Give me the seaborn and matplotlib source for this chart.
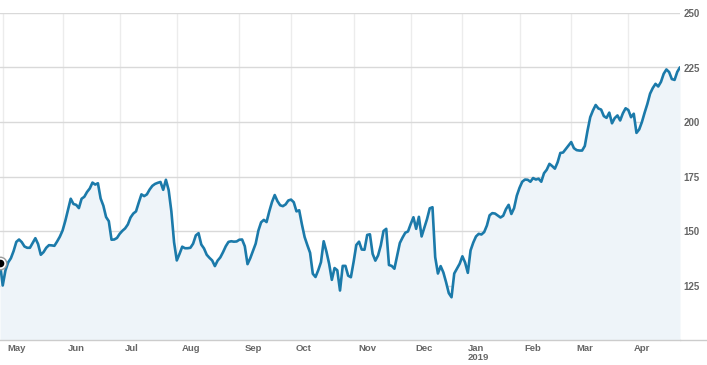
import matplotlib
matplotlib.use("Agg")
import matplotlib.pyplot as plt
import matplotlib.transforms as mtransforms
import seaborn as sns
import pandas as pd
import numpy as np

# trading calendar Apr 30 2018 .. Apr 29 2019 (NYSE holidays)
holidays = ["2018-05-28", "2018-07-04", "2018-09-03", "2018-11-22", "2018-12-05",
            "2018-12-25", "2019-01-01", "2019-01-21", "2019-02-18", "2019-04-19"]
start_date = "2018-04-30"
end_date = "2019-04-29"

# closing price, one per trading day
price = [
    135.2, 125.0, 131.9, 135.6, 137.5, 140.8, 145.0, 146.1, 144.9, 142.9,
    142.3, 142.3, 144.5, 146.7, 144.0, 139.1, 140.3, 142.3, 143.5, 143.4,
    143.2, 145.2, 147.4, 150.2, 154.6, 159.6, 164.8, 162.4, 162.0, 160.5,
    164.8, 165.7, 167.9, 169.5, 172.2, 171.3, 171.9, 164.9, 161.6, 156.4,
    154.5, 146.0, 146.1, 146.8, 148.7, 150.1, 151.2, 153.0, 156.2, 158.0,
    159.0, 163.0, 166.8, 166.0, 166.8, 169.0, 170.7, 171.6, 172.1, 172.5,
    168.9, 173.5, 168.8, 159.0, 144.8, 136.5, 139.5, 142.8, 142.1, 142.1,
    142.3, 144.2, 148.0, 149.0, 143.8, 142.0, 139.1, 137.7, 136.5, 133.9,
    136.4, 137.9, 140.3, 143.0, 145.0, 145.3, 145.1, 145.2, 146.0, 146.1,
    143.0, 134.8, 137.5, 140.8, 144.2, 150.2, 154.0, 155.1, 154.1, 159.0,
    163.3, 166.5, 163.7, 161.8, 161.4, 162.2, 164.0, 164.4, 163.2, 159.0,
    159.5, 153.0, 147.2, 143.5, 140.0, 130.4, 128.9, 132.0, 135.7, 145.3,
    140.6, 135.0, 127.6, 133.0, 132.0, 122.7, 134.0, 134.0, 129.5, 128.8,
    135.8, 143.6, 145.1, 141.5, 141.4, 148.2, 148.5, 139.5, 136.4, 138.8,
    143.4, 150.0, 151.0, 134.4, 134.0, 132.7, 138.5, 144.5, 147.0, 149.2,
    149.8, 153.2, 156.3, 151.0, 156.5, 147.5, 151.5, 155.5, 160.4, 160.9,
    138.0, 130.5, 133.9, 131.0, 126.5, 121.5, 119.6, 130.5, 132.8, 135.0,
    138.4, 135.5, 130.8, 141.1, 144.7, 147.5, 148.7, 148.4, 149.5, 152.5,
    157.2, 158.2, 158.0, 157.1, 156.2, 157.0, 160.0, 162.0, 157.8, 160.5,
    166.2, 169.8, 172.6, 173.6, 173.5, 172.6, 174.3, 173.6, 174.0, 172.6,
    176.5, 178.1, 180.8, 179.8, 178.6, 181.5, 185.8, 186.0, 187.6, 189.2,
    190.8, 188.0, 187.1, 186.9, 186.9, 189.0, 196.0, 202.2, 205.3, 207.8,
    206.2, 205.7, 202.7, 201.9, 204.3, 199.4, 201.8, 203.0, 200.7, 204.0,
    206.3, 205.5, 202.2, 203.8, 195.0, 196.6, 200.0, 204.3, 208.3, 213.0,
    215.6, 217.5, 216.3, 218.4, 222.1, 224.1, 222.9, 219.7, 219.3, 223.0,
    225.1,
]

y_ticks = [125, 150, 175, 200, 225, 250]

days = pd.bdate_range(start_date, end_date, freq="C", holidays=holidays)
assert len(days) == len(price), (len(days), len(price))
df = pd.DataFrame({"day": np.arange(len(days)), "date": days, "price": price})

# first trading day of each month -> x ticks
month_start = df[df["date"].dt.month != df["date"].shift(1).dt.month].iloc[1:]
tick_pos = month_start["day"].tolist()
tick_lab = [d.strftime("%b") + ("\n2019" if d.month == 1 else "") for d in month_start["date"]]

sns.set_style("white")
plt.rcParams["font.family"] = ["Liberation Sans", "DejaVu Sans"]

fig = plt.figure(figsize=(7.07, 3.65), dpi=100)
ax = fig.add_axes([0, 25 / 365, 680 / 707, 327 / 365])

line_col = "#1b7aaa"
ax.fill_between(df["day"], df["price"], 100, color="#eef4f9", lw=0, zorder=1)
sns.lineplot(data=df, x="day", y="price", ax=ax, color=line_col, linewidth=1.9, zorder=3)

# hover marker at the first point
ax.plot(df["day"][0], df["price"][0], "o", ms=9, mfc="white", mec="#9a9a9a", mew=1, zorder=4)
ax.plot(df["day"][0], df["price"][0], "o", ms=4.5, color="black", zorder=5)

ax.set_xlim(0, len(price) - 1)
ax.set_ylim(100, 250)

for y in y_ticks:
    ax.axhline(y, color="#d9d9d9", lw=1, zorder=0.5)
for x in tick_pos:
    ax.axvline(x, color="#ececec", lw=1, zorder=0.4)

ax.set_xticks(tick_pos)
ax.set_xticklabels(tick_lab)
ax.set_yticks(y_ticks)
ax.yaxis.tick_right()
ax.tick_params(axis="x", length=7.2, width=1, color="#ececec", pad=0,
               labelsize=6.8, labelcolor="#666666")
ax.tick_params(axis="y", length=0, pad=2.5, labelsize=7, labelcolor="#666666")
for lab in ax.get_xticklabels() + ax.get_yticklabels():
    lab.set_fontweight("bold")
offset = mtransforms.ScaledTranslation(5 / 100, 6 / 100, fig.dpi_scale_trans)
for lab in ax.get_xticklabels():
    lab.set_horizontalalignment("left")
    lab.set_linespacing(1.05)
    lab.set_transform(lab.get_transform() + offset)

ax.set_xlabel("")
ax.set_ylabel("")
for side in ["top", "left", "right"]:
    ax.spines[side].set_visible(False)
ax.spines["bottom"].set_color("#cccccc")
ax.spines["bottom"].set_linewidth(1)
fig.add_artist(plt.Line2D([680 / 707, 1], [25 / 365, 25 / 365], color="#cccccc", lw=1))

fig.savefig("out.png", dpi=100)
